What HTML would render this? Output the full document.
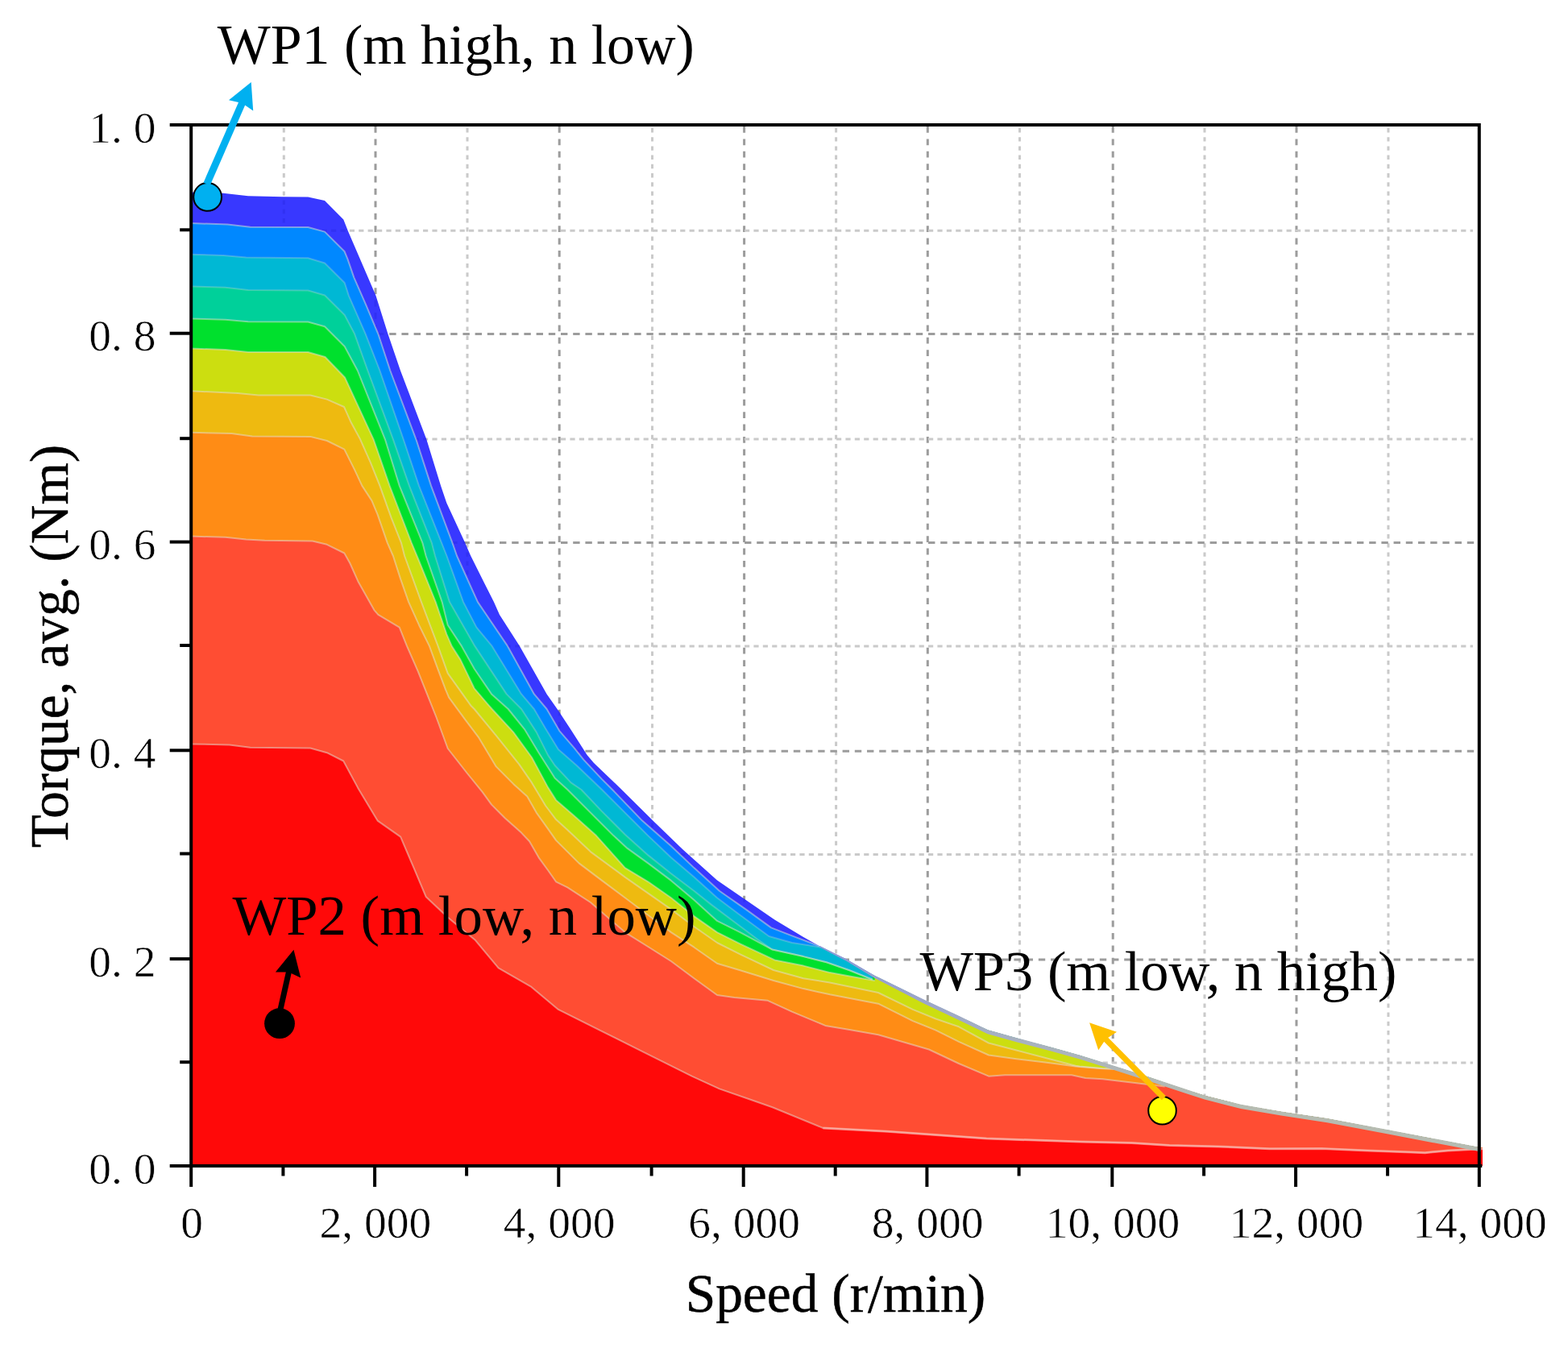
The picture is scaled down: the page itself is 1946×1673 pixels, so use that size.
<!DOCTYPE html>
<html lang="en"><head><meta charset="utf-8"><title>Torque-speed map</title>
<style>html,body{margin:0;padding:0;background:#fff}body{width:1946px;height:1673px;overflow:hidden}svg{display:block}text{font-family:"Liberation Serif","Noto Serif CJK SC",serif;fill:#000}.tk{font-size:55.5px;fill:#111;stroke:#fff;stroke-width:0.6px;paint-order:fill stroke}.ax{font-size:67.4px;stroke:#000;stroke-width:0.5px}.an{font-size:70.3px}</style></head><body>
<svg width="1946" height="1673" viewBox="0 0 1946 1673">
<rect width="1946" height="1673" fill="#fff"/>
<g fill="none" stroke-width="3">
<line x1="352.3" y1="159" x2="352.3" y2="1445" stroke="#cacaca" stroke-dasharray="5.4 5.8"/>
<line x1="466.0" y1="157" x2="466.0" y2="1445" stroke="#9c9c9c" stroke-dasharray="7.8 7.6"/>
<line x1="580.0" y1="159" x2="580.0" y2="1445" stroke="#cacaca" stroke-dasharray="5.4 5.8"/>
<line x1="694.2" y1="157" x2="694.2" y2="1445" stroke="#9c9c9c" stroke-dasharray="7.8 7.6"/>
<line x1="809.5" y1="159" x2="809.5" y2="1445" stroke="#cacaca" stroke-dasharray="5.4 5.8"/>
<line x1="923.6" y1="157" x2="923.6" y2="1445" stroke="#9c9c9c" stroke-dasharray="7.8 7.6"/>
<line x1="1037.6" y1="159" x2="1037.6" y2="1445" stroke="#cacaca" stroke-dasharray="5.4 5.8"/>
<line x1="1151.3" y1="157" x2="1151.3" y2="1445" stroke="#9c9c9c" stroke-dasharray="7.8 7.6"/>
<line x1="1265.5" y1="159" x2="1265.5" y2="1445" stroke="#cacaca" stroke-dasharray="5.4 5.8"/>
<line x1="1381.2" y1="157" x2="1381.2" y2="1445" stroke="#9c9c9c" stroke-dasharray="7.8 7.6"/>
<line x1="1495.0" y1="159" x2="1495.0" y2="1445" stroke="#cacaca" stroke-dasharray="5.4 5.8"/>
<line x1="1609.0" y1="157" x2="1609.0" y2="1445" stroke="#9c9c9c" stroke-dasharray="7.8 7.6"/>
<line x1="1723.0" y1="159" x2="1723.0" y2="1445" stroke="#cacaca" stroke-dasharray="5.4 5.8"/>
<line x1="240" y1="1319.1" x2="1828" y2="1319.1" stroke="#cacaca" stroke-dasharray="6.2 5.2"/>
<line x1="240" y1="1191.0" x2="1832" y2="1191.0" stroke="#9c9c9c" stroke-dasharray="8.4 6.8"/>
<line x1="240" y1="1060.4" x2="1828" y2="1060.4" stroke="#cacaca" stroke-dasharray="6.2 5.2"/>
<line x1="240" y1="932.2" x2="1832" y2="932.2" stroke="#9c9c9c" stroke-dasharray="8.4 6.8"/>
<line x1="240" y1="801.9" x2="1828" y2="801.9" stroke="#cacaca" stroke-dasharray="6.2 5.2"/>
<line x1="240" y1="673.5" x2="1832" y2="673.5" stroke="#9c9c9c" stroke-dasharray="8.4 6.8"/>
<line x1="240" y1="545.1" x2="1828" y2="545.1" stroke="#cacaca" stroke-dasharray="6.2 5.2"/>
<line x1="240" y1="414.6" x2="1832" y2="414.6" stroke="#9c9c9c" stroke-dasharray="8.4 6.8"/>
<line x1="240" y1="286.2" x2="1828" y2="286.2" stroke="#cacaca" stroke-dasharray="6.2 5.2"/>
</g>
<defs><clipPath id="env"><polygon points="237.2,238.6 277.0,239.8 308.0,243.2 350.0,244.3 382.3,244.4 403.0,249.0 426.3,272.5 431.8,286.4 466.5,367.0 481.4,414.3 497.0,460.0 529.3,545.3 547.1,602.9 554.3,624.3 577.1,673.6 584.3,690.0 600.0,721.4 612.9,747.1 620.0,762.9 645.0,801.9 678.6,861.4 693.0,882.0 708.6,905.7 728.6,937.1 737.1,947.1 770.0,978.5 811.4,1019.5 847.1,1054.0 890.0,1092.5 925.7,1117.1 961.4,1141.4 997.1,1162.9 1017.1,1174.3 1037.1,1184.3 1050.0,1190.5 1084.3,1210.5 1147.1,1241.4 1190.0,1261.4 1225.7,1278.6 1261.4,1288.6 1304.3,1300.0 1340.0,1310.0 1381.1,1322.9 1425.7,1337.1 1468.6,1351.4 1495.0,1360.0 1540.0,1371.4 1590.0,1380.0 1647.1,1388.6 1722.9,1402.9 1790.0,1415.7 1835.7,1424.3 1840.0,1424.3 1840.0,1447.0 237.2,1447.0"/></clipPath></defs>
<g clip-path="url(#env)">
<rect x="230" y="200" width="1612" height="1250" fill="#3838FF"/>
<g fill="none" stroke="#1c1cc8" stroke-opacity="0.22" stroke-width="3">
<line x1="352.3" y1="159" x2="352.3" y2="1445" stroke-dasharray="5.4 5.8"/>
<line x1="466.0" y1="157" x2="466.0" y2="1445" stroke-dasharray="7.8 7.6"/>
<line x1="580.0" y1="159" x2="580.0" y2="1445" stroke-dasharray="5.4 5.8"/>
<line x1="694.2" y1="157" x2="694.2" y2="1445" stroke-dasharray="7.8 7.6"/>
<line x1="809.5" y1="159" x2="809.5" y2="1445" stroke-dasharray="5.4 5.8"/>
<line x1="923.6" y1="157" x2="923.6" y2="1445" stroke-dasharray="7.8 7.6"/>
<line x1="1037.6" y1="159" x2="1037.6" y2="1445" stroke-dasharray="5.4 5.8"/>
<line x1="1151.3" y1="157" x2="1151.3" y2="1445" stroke-dasharray="7.8 7.6"/>
<line x1="240" y1="1191.0" x2="1100" y2="1191.0" stroke-dasharray="8.4 6.8"/>
<line x1="240" y1="1060.4" x2="1100" y2="1060.4" stroke-dasharray="6.2 5.2"/>
<line x1="240" y1="932.2" x2="1100" y2="932.2" stroke-dasharray="8.4 6.8"/>
<line x1="240" y1="801.9" x2="1100" y2="801.9" stroke-dasharray="6.2 5.2"/>
<line x1="240" y1="673.5" x2="1100" y2="673.5" stroke-dasharray="8.4 6.8"/>
<line x1="240" y1="545.1" x2="1100" y2="545.1" stroke-dasharray="6.2 5.2"/>
<line x1="240" y1="414.6" x2="1100" y2="414.6" stroke-dasharray="8.4 6.8"/>
<line x1="240" y1="286.2" x2="1100" y2="286.2" stroke-dasharray="6.2 5.2"/>
</g>
<polygon points="237.2,277.1 282.3,278.4 310.5,281.7 382.3,282.0 403.0,287.6 427.5,312.0 431.4,321.4 439.3,344.3 454.3,378.6 469.3,414.3 484.3,460.0 516.4,545.3 535.0,602.9 561.4,673.6 567.1,690.0 592.9,747.1 630.0,801.9 662.9,861.4 678.6,880.0 694.3,907.1 712.9,928.6 724.3,942.9 747.1,967.1 760.0,980.0 797.1,1018.6 832.9,1050.0 861.4,1077.1 892.9,1105.7 925.7,1128.6 957.1,1151.4 982.9,1161.4 1017.1,1174.3 1017.6,0.0 1845.0,0.0 1845.0,1449.0 235.2,1449.0 235.2,277.1" fill="#0088FF"/>
<polygon points="237.2,315.7 277.1,317.0 305.4,319.5 382.3,320.3 403.0,326.5 427.7,351.0 432.9,367.1 453.6,414.3 471.4,460.0 500.7,545.3 520.0,602.9 548.0,673.6 554.5,690.0 575.0,747.1 591.4,778.6 610.7,801.9 647.1,861.4 662.9,880.0 677.1,904.3 692.9,930.0 715.7,950.0 747.1,980.0 775.7,1008.6 804.3,1037.1 832.9,1064.3 861.4,1088.6 890.0,1114.3 918.6,1135.7 954.3,1162.0 982.9,1170.0 1018.6,1175.7 1019.1,0.0 1845.0,0.0 1845.0,1449.0 235.2,1449.0 235.2,315.7" fill="#00B8D4"/>
<polygon points="237.2,355.5 279.7,356.8 308.0,359.9 382.3,360.5 403.0,366.5 427.7,391.0 440.0,414.3 456.4,460.0 487.9,545.3 507.9,602.9 535.7,673.6 540.0,690.0 557.9,747.1 589.3,801.9 628.6,861.4 647.1,880.0 665.7,908.6 680.0,937.1 688.6,950.0 708.6,971.4 721.4,980.0 747.1,1007.1 775.7,1035.7 804.3,1061.4 832.9,1084.3 861.4,1105.7 882.9,1122.9 911.4,1144.3 940.0,1165.7 958.6,1178.6 997.1,1187.1 1025.7,1194.3 1054.3,1204.3 1082.9,1215.7 1083.4,0.0 1845.0,0.0 1845.0,1449.0 235.2,1449.0 235.2,355.5" fill="#00D09A"/>
<polygon points="237.2,395.4 279.7,396.7 308.0,399.2 382.3,399.5 403.0,405.3 427.7,430.0 443.8,460.0 477.9,545.3 495.7,602.9 524.3,673.6 528.6,690.0 548.6,747.1 555.7,775.7 572.9,801.9 588.6,830.0 610.0,861.4 630.7,880.0 651.4,905.7 668.6,934.3 688.6,965.7 704.3,980.0 732.9,1008.6 761.4,1037.1 778.6,1052.9 804.3,1071.4 832.9,1092.9 861.4,1117.1 890.0,1142.9 918.6,1157.1 958.6,1178.6 997.1,1187.1 1025.7,1194.3 1054.3,1204.3 1082.9,1215.7 1083.4,0.0 1845.0,0.0 1845.0,1449.0 235.2,1449.0 235.2,395.4" fill="#00E02D"/>
<polygon points="237.2,432.6 279.7,433.9 308.0,437.0 382.3,437.0 403.5,443.0 428.0,468.5 463.6,545.3 483.6,602.9 510.7,673.6 520.0,696.0 540.7,747.1 554.3,787.1 560.7,801.9 571.4,818.6 588.6,854.3 605.7,874.3 610.7,880.0 637.1,908.6 660.0,940.0 680.0,977.1 690.0,992.9 711.4,1011.4 740.0,1037.1 775.7,1077.1 804.3,1094.3 832.9,1114.3 861.4,1137.1 890.0,1157.1 918.6,1171.4 961.4,1191.4 997.1,1198.6 1030.0,1207.1 1054.3,1211.4 1085.7,1217.1 1086.2,0.0 1845.0,0.0 1845.0,1449.0 235.2,1449.0 235.2,432.6" fill="#CCDE10"/>
<polygon points="237.2,485.3 295.1,487.9 320.8,490.5 385.1,490.5 405.7,495.6 427.0,505.0 435.7,524.3 447.1,545.3 460.0,574.3 471.4,602.9 485.7,642.9 497.9,673.6 502.1,690.0 522.9,747.1 543.6,801.9 555.7,835.7 584.3,875.7 588.6,880.0 615.7,912.9 644.3,948.6 660.0,971.4 677.1,1000.0 690.0,1017.1 704.3,1030.0 732.9,1057.1 775.7,1088.6 804.3,1108.6 832.9,1128.6 861.4,1150.0 890.0,1170.0 918.6,1184.3 960.0,1204.0 997.1,1214.3 1030.0,1219.5 1090.0,1232.0 1132.9,1252.9 1161.4,1264.5 1190.0,1274.3 1227.0,1294.5 1261.4,1303.5 1304.3,1314.8 1335.0,1322.8 1340.0,1323.6 1368.0,1326.0 1390.0,1327.0 1390.5,0.0 1845.0,0.0 1845.0,1449.0 235.2,1449.0 235.2,485.3" fill="#EEBA10"/>
<polygon points="237.2,536.8 287.4,538.0 313.1,541.4 385.1,541.9 405.7,547.0 427.3,557.6 440.0,582.9 449.3,602.9 461.4,621.4 468.6,638.6 480.7,673.6 487.9,690.0 497.1,718.6 507.1,747.1 520.0,775.7 532.9,801.9 544.3,832.9 552.9,855.7 557.1,865.7 577.1,892.9 594.3,915.7 615.7,951.4 637.1,972.9 654.3,988.6 665.7,1008.6 680.0,1028.6 690.0,1042.9 718.6,1071.4 747.1,1092.9 775.7,1114.3 804.3,1135.7 832.9,1157.1 861.4,1175.7 890.0,1195.7 918.6,1204.3 960.0,1217.0 997.1,1227.1 1030.0,1234.3 1090.0,1245.7 1132.9,1267.1 1161.4,1278.6 1190.0,1292.9 1227.0,1309.5 1261.4,1314.3 1297.1,1318.6 1335.0,1323.4 1340.0,1324.0 1368.0,1326.2 1390.0,1327.0 1390.5,0.0 1845.0,0.0 1845.0,1449.0 235.2,1449.0 235.2,536.8" fill="#FF8C15"/>
<polygon points="237.2,665.6 279.7,666.8 305.4,669.4 328.5,670.7 387.7,671.5 405.7,675.8 427.3,686.5 434.3,699.0 444.3,721.4 464.3,757.1 469.3,762.9 495.7,778.6 505.0,801.9 518.6,832.9 530.0,861.4 541.4,890.0 555.7,929.0 580.0,960.0 598.6,982.9 610.0,998.6 627.1,1015.7 647.1,1033.6 657.1,1044.3 668.6,1064.3 680.0,1080.0 690.0,1094.3 704.3,1101.4 732.9,1120.0 775.7,1157.1 804.3,1175.0 832.9,1193.0 861.4,1214.3 890.0,1235.0 911.4,1237.9 952.9,1241.8 982.9,1255.7 1024.3,1272.9 1054.3,1278.0 1090.0,1284.3 1152.9,1302.5 1190.0,1320.0 1227.0,1335.7 1247.1,1334.3 1330.0,1334.3 1347.1,1337.9 1368.6,1339.3 1404.3,1343.6 1445.7,1348.6 1446.2,0.0 1845.0,0.0 1845.0,1449.0 235.2,1449.0 235.2,665.6" fill="#FF4D33"/>
<polygon points="237.2,923.4 284.8,924.4 310.5,927.8 385.1,928.5 405.7,934.2 426.2,944.5 444.2,977.9 451.4,990.0 468.6,1018.6 497.1,1038.6 512.9,1075.7 528.6,1112.9 555.7,1138.6 590.0,1167.1 618.6,1201.4 658.6,1224.3 692.9,1252.9 744.3,1278.6 801.4,1307.1 858.6,1335.7 892.9,1351.4 930.0,1364.3 958.6,1374.3 1021.4,1400.0 1101.4,1404.3 1224.3,1412.9 1340.0,1417.1 1404.3,1418.6 1451.4,1421.4 1511.4,1422.9 1575.7,1425.7 1640.0,1425.5 1697.0,1428.0 1751.0,1430.0 1768.6,1430.7 1797.0,1428.0 1826.0,1426.4 1840.0,1425.7 1840.5,0.0 1845.0,0.0 1845.0,1449.0 235.2,1449.0 235.2,923.4" fill="#FF0909"/>
<g fill="none" stroke="#e4e0d4" stroke-opacity="0.5" stroke-width="2" stroke-linejoin="round">
<polyline points="237.2,277.1 282.3,278.4 310.5,281.7 382.3,282.0 403.0,287.6 427.5,312.0 431.4,321.4 439.3,344.3 454.3,378.6 469.3,414.3 484.3,460.0 516.4,545.3 535.0,602.9 561.4,673.6 567.1,690.0 592.9,747.1 630.0,801.9 662.9,861.4 678.6,880.0 694.3,907.1 712.9,928.6 724.3,942.9 747.1,967.1 760.0,980.0 797.1,1018.6 832.9,1050.0 861.4,1077.1 892.9,1105.7 925.7,1128.6 957.1,1151.4 982.9,1161.4 1017.1,1174.3"/>
<polyline points="237.2,315.7 277.1,317.0 305.4,319.5 382.3,320.3 403.0,326.5 427.7,351.0 432.9,367.1 453.6,414.3 471.4,460.0 500.7,545.3 520.0,602.9 548.0,673.6 554.5,690.0 575.0,747.1 591.4,778.6 610.7,801.9 647.1,861.4 662.9,880.0 677.1,904.3 692.9,930.0 715.7,950.0 747.1,980.0 775.7,1008.6 804.3,1037.1 832.9,1064.3 861.4,1088.6 890.0,1114.3 918.6,1135.7 954.3,1162.0 982.9,1170.0 1018.6,1175.7" stroke-opacity="0.28"/>
<polyline points="237.2,355.5 279.7,356.8 308.0,359.9 382.3,360.5 403.0,366.5 427.7,391.0 440.0,414.3 456.4,460.0 487.9,545.3 507.9,602.9 535.7,673.6 540.0,690.0 557.9,747.1 589.3,801.9 628.6,861.4 647.1,880.0 665.7,908.6 680.0,937.1 688.6,950.0 708.6,971.4 721.4,980.0 747.1,1007.1 775.7,1035.7 804.3,1061.4 832.9,1084.3 861.4,1105.7 882.9,1122.9 911.4,1144.3 940.0,1165.7 958.6,1178.6 997.1,1187.1 1025.7,1194.3 1054.3,1204.3 1082.9,1215.7" stroke-opacity="0.28"/>
<polyline points="237.2,395.4 279.7,396.7 308.0,399.2 382.3,399.5 403.0,405.3 427.7,430.0 443.8,460.0 477.9,545.3 495.7,602.9 524.3,673.6 528.6,690.0 548.6,747.1 555.7,775.7 572.9,801.9 588.6,830.0 610.0,861.4 630.7,880.0 651.4,905.7 668.6,934.3 688.6,965.7 704.3,980.0 732.9,1008.6 761.4,1037.1 778.6,1052.9 804.3,1071.4 832.9,1092.9 861.4,1117.1 890.0,1142.9 918.6,1157.1 958.6,1178.6 997.1,1187.1 1025.7,1194.3 1054.3,1204.3 1082.9,1215.7"/>
<polyline points="237.2,432.6 279.7,433.9 308.0,437.0 382.3,437.0 403.5,443.0 428.0,468.5 463.6,545.3 483.6,602.9 510.7,673.6 520.0,696.0 540.7,747.1 554.3,787.1 560.7,801.9 571.4,818.6 588.6,854.3 605.7,874.3 610.7,880.0 637.1,908.6 660.0,940.0 680.0,977.1 690.0,992.9 711.4,1011.4 740.0,1037.1 775.7,1077.1 804.3,1094.3 832.9,1114.3 861.4,1137.1 890.0,1157.1 918.6,1171.4 961.4,1191.4 997.1,1198.6 1030.0,1207.1 1054.3,1211.4 1085.7,1217.1"/>
<polyline points="237.2,485.3 295.1,487.9 320.8,490.5 385.1,490.5 405.7,495.6 427.0,505.0 435.7,524.3 447.1,545.3 460.0,574.3 471.4,602.9 485.7,642.9 497.9,673.6 502.1,690.0 522.9,747.1 543.6,801.9 555.7,835.7 584.3,875.7 588.6,880.0 615.7,912.9 644.3,948.6 660.0,971.4 677.1,1000.0 690.0,1017.1 704.3,1030.0 732.9,1057.1 775.7,1088.6 804.3,1108.6 832.9,1128.6 861.4,1150.0 890.0,1170.0 918.6,1184.3 960.0,1204.0 997.1,1214.3 1030.0,1219.5 1090.0,1232.0 1132.9,1252.9 1161.4,1264.5 1190.0,1274.3 1227.0,1294.5 1261.4,1303.5 1304.3,1314.8 1335.0,1322.8 1340.0,1323.6 1368.0,1326.0 1390.0,1327.0"/>
<polyline points="237.2,536.8 287.4,538.0 313.1,541.4 385.1,541.9 405.7,547.0 427.3,557.6 440.0,582.9 449.3,602.9 461.4,621.4 468.6,638.6 480.7,673.6 487.9,690.0 497.1,718.6 507.1,747.1 520.0,775.7 532.9,801.9 544.3,832.9 552.9,855.7 557.1,865.7 577.1,892.9 594.3,915.7 615.7,951.4 637.1,972.9 654.3,988.6 665.7,1008.6 680.0,1028.6 690.0,1042.9 718.6,1071.4 747.1,1092.9 775.7,1114.3 804.3,1135.7 832.9,1157.1 861.4,1175.7 890.0,1195.7 918.6,1204.3 960.0,1217.0 997.1,1227.1 1030.0,1234.3 1090.0,1245.7 1132.9,1267.1 1161.4,1278.6 1190.0,1292.9 1227.0,1309.5 1261.4,1314.3 1297.1,1318.6 1335.0,1323.4 1340.0,1324.0 1368.0,1326.2 1390.0,1327.0"/>
<polyline points="237.2,665.6 279.7,666.8 305.4,669.4 328.5,670.7 387.7,671.5 405.7,675.8 427.3,686.5 434.3,699.0 444.3,721.4 464.3,757.1 469.3,762.9 495.7,778.6 505.0,801.9 518.6,832.9 530.0,861.4 541.4,890.0 555.7,929.0 580.0,960.0 598.6,982.9 610.0,998.6 627.1,1015.7 647.1,1033.6 657.1,1044.3 668.6,1064.3 680.0,1080.0 690.0,1094.3 704.3,1101.4 732.9,1120.0 775.7,1157.1 804.3,1175.0 832.9,1193.0 861.4,1214.3 890.0,1235.0 911.4,1237.9 952.9,1241.8 982.9,1255.7 1024.3,1272.9 1054.3,1278.0 1090.0,1284.3 1152.9,1302.5 1190.0,1320.0 1227.0,1335.7 1247.1,1334.3 1330.0,1334.3 1347.1,1337.9 1368.6,1339.3 1404.3,1343.6 1445.7,1348.6"/>
<polyline points="237.2,923.4 284.8,924.4 310.5,927.8 385.1,928.5 405.7,934.2 426.2,944.5 444.2,977.9 451.4,990.0 468.6,1018.6 497.1,1038.6 512.9,1075.7 528.6,1112.9 555.7,1138.6 590.0,1167.1 618.6,1201.4 658.6,1224.3 692.9,1252.9 744.3,1278.6 801.4,1307.1 858.6,1335.7 892.9,1351.4 930.0,1364.3 958.6,1374.3 1021.4,1400.0 1101.4,1404.3 1224.3,1412.9 1340.0,1417.1 1404.3,1418.6 1451.4,1421.4 1511.4,1422.9 1575.7,1425.7 1640.0,1425.5 1697.0,1428.0 1751.0,1430.0 1768.6,1430.7 1797.0,1428.0 1826.0,1426.4 1840.0,1425.7"/>
</g>
<polyline points="1021.4,1400.0 1101.4,1404.3 1224.3,1412.9 1340.0,1417.1 1404.3,1418.6 1451.4,1421.4 1511.4,1422.9 1575.7,1425.7 1640.0,1425.5 1697.0,1428.0 1751.0,1430.0 1768.6,1430.7 1797.0,1428.0 1826.0,1426.4 1840.0,1425.7" fill="none" stroke="#ffc8c0" stroke-opacity="0.5" stroke-width="3"/>
</g>
<linearGradient id="tg" gradientUnits="userSpaceOnUse" x1="1017" y1="0" x2="1500" y2="0"><stop offset="0" stop-color="#8f98d6"/><stop offset="0.45" stop-color="#a6b0c2"/><stop offset="1" stop-color="#b6bcb2"/></linearGradient>
<polygon points="1017.1,1173.7 1037.1,1183.7 1050.0,1189.9 1084.3,1209.9 1147.1,1240.8 1190.0,1260.8 1225.7,1278.0 1261.4,1288.0 1304.3,1299.4 1340.0,1309.4 1381.1,1322.3 1425.7,1336.5 1468.6,1350.8 1495.0,1359.4 1540.0,1370.8 1590.0,1379.4 1647.1,1388.0 1722.9,1402.3 1790.0,1415.1 1835.7,1423.7 1838.0,1424.0 1838.0,1429.0 1835.7,1428.9 1790.0,1420.3 1722.9,1407.5 1647.1,1393.2 1590.0,1384.6 1540.0,1376.0 1495.0,1364.6 1468.6,1356.0 1425.7,1341.7 1381.1,1327.5 1340.0,1314.6 1304.3,1304.6 1261.4,1293.2 1225.7,1283.2 1190.0,1266.0 1147.1,1245.7 1084.3,1213.3 1050.0,1192.5 1037.1,1186.0 1017.1,1175.5" fill="url(#tg)"/>
<g stroke="#000" stroke-width="4" fill="none" stroke-linecap="butt">
<path d="M237.2,153.0 V1449.0 M1835.8,153.0 V1473.0 M210.7,155.0 H1837.8 M210.7,1447.0 H1839.3"/>
<line x1="223.2" y1="1318.2" x2="237.2" y2="1318.2"/>
<line x1="210.7" y1="1190.1" x2="237.2" y2="1190.1"/>
<line x1="223.2" y1="1059.5" x2="237.2" y2="1059.5"/>
<line x1="210.7" y1="931.3" x2="237.2" y2="931.3"/>
<line x1="223.2" y1="801.0" x2="237.2" y2="801.0"/>
<line x1="210.7" y1="672.6" x2="237.2" y2="672.6"/>
<line x1="223.2" y1="544.2" x2="237.2" y2="544.2"/>
<line x1="210.7" y1="413.7" x2="237.2" y2="413.7"/>
<line x1="223.2" y1="285.3" x2="237.2" y2="285.3"/>
<line x1="237.2" y1="1447.0" x2="237.2" y2="1473.0"/>
<line x1="351.4" y1="1447.0" x2="351.4" y2="1459.5"/>
<line x1="465.1" y1="1447.0" x2="465.1" y2="1473.0"/>
<line x1="579.1" y1="1447.0" x2="579.1" y2="1459.5"/>
<line x1="693.3" y1="1447.0" x2="693.3" y2="1473.0"/>
<line x1="808.6" y1="1447.0" x2="808.6" y2="1459.5"/>
<line x1="922.7" y1="1447.0" x2="922.7" y2="1473.0"/>
<line x1="1036.7" y1="1447.0" x2="1036.7" y2="1459.5"/>
<line x1="1150.4" y1="1447.0" x2="1150.4" y2="1473.0"/>
<line x1="1264.6" y1="1447.0" x2="1264.6" y2="1459.5"/>
<line x1="1380.3" y1="1447.0" x2="1380.3" y2="1473.0"/>
<line x1="1494.1" y1="1447.0" x2="1494.1" y2="1459.5"/>
<line x1="1608.1" y1="1447.0" x2="1608.1" y2="1473.0"/>
<line x1="1722.1" y1="1447.0" x2="1722.1" y2="1459.5"/>
</g>
<g class="tk" text-anchor="end">
<text x="193.5" y="1468.6">0. 0</text>
<text x="193.5" y="1211.7">0. 2</text>
<text x="193.5" y="952.9">0. 4</text>
<text x="193.5" y="694.2">0. 6</text>
<text x="193.5" y="435.3">0. 8</text>
<text x="193.5" y="176.6">1. 0</text>
</g>
<g class="tk" text-anchor="middle">
<text x="238.0" y="1536.2">0</text>
<text x="465.9" y="1536.2">2, 000</text>
<text x="694.1" y="1536.2">4, 000</text>
<text x="923.5" y="1536.2">6, 000</text>
<text x="1151.2" y="1536.2">8, 000</text>
<text x="1381.1" y="1536.2">10, 000</text>
<text x="1608.9" y="1536.2">12, 000</text>
<text x="1836.6" y="1536.2">14, 000</text>
</g>
<text class="ax" x="1036.9" y="1628" text-anchor="middle">Speed (r/min)</text>
<text class="ax" transform="translate(83.5 802) rotate(-90)" text-anchor="middle">Torque, avg. (Nm)</text>
<circle cx="257.6" cy="244.4" r="17.4" fill="#00B0F0" stroke="#000" stroke-width="2"/>
<line x1="256.6" y1="228.5" x2="301.6" y2="125.2" stroke="#00B0F0" stroke-width="8.9"/><polygon points="311.7,101.9 314.2,137.5 300.4,127.9 284.0,124.3" fill="#00B0F0"/>
<circle cx="347.0" cy="1270.2" r="18.9" fill="#000"/>
<line x1="347.3" y1="1256.0" x2="359.0" y2="1203.7" stroke="#000" stroke-width="7.0"/><polygon points="364.5,1178.8 373.2,1213.5 358.3,1206.6 341.9,1206.6" fill="#000"/>
<circle cx="1442.5" cy="1378.2" r="17.3" fill="#FFFF00" stroke="#000" stroke-width="2"/>
<line x1="1444.4" y1="1362.8" x2="1370.2" y2="1287.7" stroke="#FFC000" stroke-width="7.2"/><polygon points="1352.1,1269.3 1386.0,1280.8 1372.3,1289.8 1363.2,1303.3" fill="#FFC000"/>
<g class="an">
<text x="269.7" y="78.8" font-size="69.9">WP1 (m high, n low)</text>
<text x="288.4" y="1160.1" font-size="70.75">WP2 (m low, n low)</text>
<text x="1141.4" y="1229.3" font-size="70.45">WP3 (m low, n high)</text>
</g>
</svg></body></html>
